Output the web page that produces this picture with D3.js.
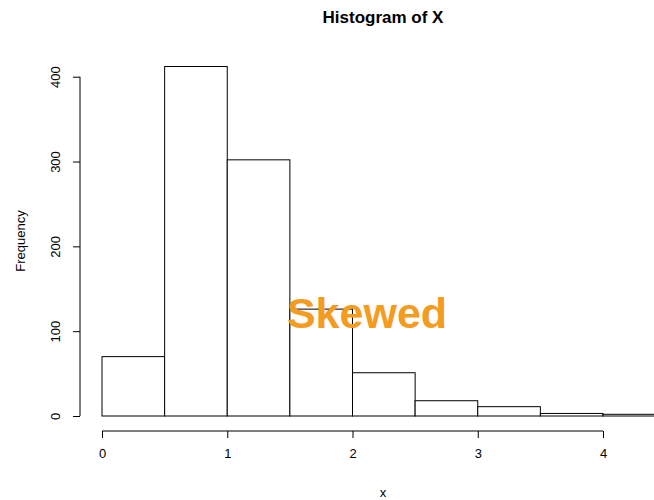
<!DOCTYPE html>
<script src="https://d3js.org/d3.v7.min.js"></script>

<style>
	body { margin: 0; background: #fff; }
	.chart text { font-family: "Liberation Sans", Arial, sans-serif; fill: #000; }
	.chart rect { fill: #fff; stroke: #000; stroke-width: 1; }
</style>

<html><body>
<svg class="chart"></svg>

<script>
var width = 654;
var height = 500;

// histogram bins (left edges, width 0.5) and counts
var binStarts = [0, 0.5, 1, 1.5, 2, 2.5, 3, 3.5, 4];
var counts = [70, 412, 302, 126, 51, 18, 11, 3, 2];
var binWidth = 0.5;

var xTicks = [0, 1, 2, 3, 4];
var yTicks = [0, 100, 200, 300, 400];

var x = d3.scaleLinear().domain([0, 4]).range([102, 603]);
var y = d3.scaleLinear().domain([0, 400]).range([416, 76.7]);

var chart = d3.select(".chart")
	.attr("width", width)
	.attr("height", height);

chart.append("g")
	.selectAll("rect")
	.data(counts)
	.enter().append("rect")
	.attr("x", function(d, i) { return x(binStarts[i]); })
	.attr("y", function(d) { return y(d); })
	.attr("width", function(d, i) { return x(binStarts[i] + binWidth) - x(binStarts[i]); })
	.attr("height", function(d) { return y(0) - y(d); });

// Y axis, R style: rotated labels
var yAxis = chart.append("g")
	.attr("transform", "translate(80,0)")
	.call(d3.axisLeft(y).tickValues(yTicks).tickSize(7).tickSizeOuter(0).tickPadding(0));

yAxis.select(".domain").attr("stroke", "#000").attr("d", "M0," + y(0) + "V" + y(400));
yAxis.selectAll("line").attr("stroke", "#000");
yAxis.selectAll("text")
	.attr("x", null).attr("dy", null)
	.attr("font-size", 13)
	.attr("text-anchor", "middle")
	.attr("transform", "translate(-20,0) rotate(-90)")
	.attr("y", 0);

// X axis
var xAxis = chart.append("g")
	.attr("transform", "translate(0,431)")
	.call(d3.axisBottom(x).tickValues(xTicks).tickFormat(d3.format("d")).tickSize(7).tickSizeOuter(0).tickPadding(11));

xAxis.select(".domain").attr("stroke", "#000").attr("d", "M" + x(0) + ",0H" + x(4));
xAxis.selectAll("line").attr("stroke", "#000");
xAxis.selectAll("text").attr("font-size", 13);

// labels
chart.append("text")
	.attr("x", 383).attr("y", 23)
	.attr("text-anchor", "middle")
	.attr("font-size", 17)
	.attr("font-weight", "bold")
	.text("Histogram of X");

chart.append("text")
	.attr("x", 383).attr("y", 497)
	.attr("text-anchor", "middle")
	.attr("font-size", 13)
	.text("x");

chart.append("text")
	.attr("transform", "translate(25,241) rotate(-90)")
	.attr("text-anchor", "middle")
	.attr("font-size", 13)
	.text("Frequency");

chart.append("text")
	.attr("x", 367).attr("y", 328)
	.attr("text-anchor", "middle")
	.attr("font-size", 43)
	.attr("font-weight", "bold")
	.style("fill", "#F39C1F")
	.text("Skewed");
</script>

</body></html>
